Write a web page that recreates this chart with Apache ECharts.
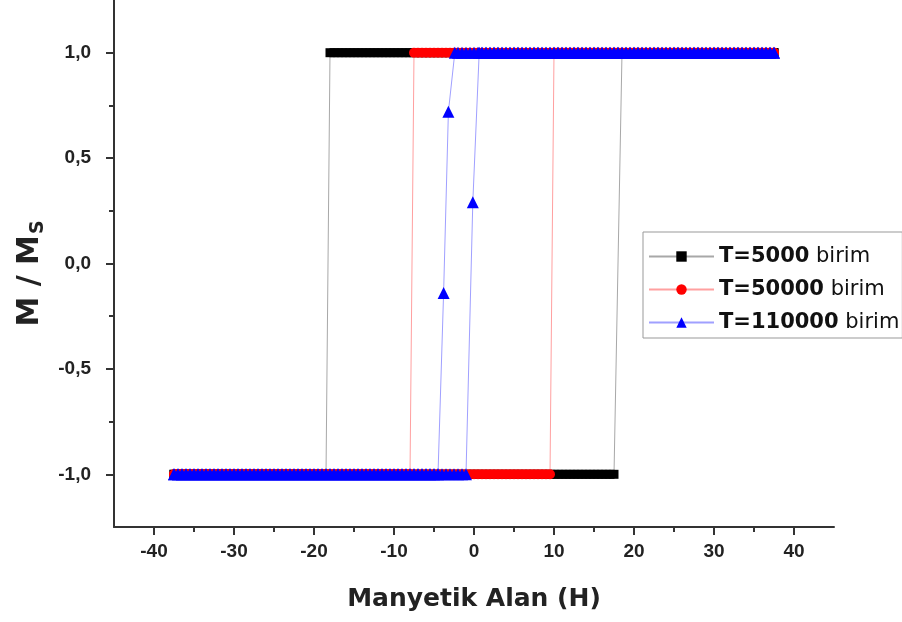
<!DOCTYPE html>
<html>
<head>
<meta charset="utf-8">
<script src="https://cdn.jsdelivr.net/npm/echarts@6/dist/echarts.min.js"></script>
<style>
  html, body { margin: 0; padding: 0; background: #fff; }
  #chart { width: 902px; height: 622px; }
</style>
</head>
<body>
<div id="chart"></div>
<script>
// Field sweep of the simulated hysteresis loops
const H_MAX = 37.5;
const H_STEP = 0.5;

// Series names
const seriesNames = ['T=5000 birim', 'T=50000 birim', 'T=110000 birim'];

// Switching points [H, M/Ms] on the decreasing-field branch, in sweep order
const desc5000 = [[-18.0, 1], [-18.5, -1]];
const desc50000 = [[-7.5, 1], [-8.0, -1]];
const desc110000 = [[-2.4, 1], [-3.2, 0.72], [-3.8, -0.14], [-4.5, -1]];

// Switching points [H, M/Ms] on the increasing-field branch, in sweep order
const asc5000 = [[17.5, -1], [18.5, 1]];
const asc50000 = [[9.5, -1], [10.0, 1]];
const asc110000 = [[-1.0, -1], [-0.15, 0.29], [0.65, 1]];

// Saturated magnetisation levels
const M_UP = 1;
const M_DOWN = -1;

// Axis ticks
const xTickValues = [-40, -30, -20, -10, 0, 10, 20, 30, 40];
const xMinorTicks = [-35, -25, -15, -5, 5, 15, 25, 35];
const yTickValues = [-1, -0.5, 0, 0.5, 1];
const yMinorTicks = [-0.75, -0.25, 0.25, 0.75];

// Field values of the sweep
const fieldSweep = [];
for (let h = -H_MAX; h <= H_MAX + 1e-9; h += H_STEP) fieldSweep.push(Math.round(h * 10) / 10);

// One full loop: field goes down from +H_MAX to -H_MAX, then back up
function buildLoop(desc, asc) {
  const pts = [];
  const down = fieldSweep.slice().reverse();
  down.filter(h => h > desc[0][0]).forEach(h => pts.push([h, M_UP]));
  desc.forEach(p => pts.push(p));
  down.filter(h => h < desc[desc.length - 1][0]).forEach(h => pts.push([h, M_DOWN]));
  fieldSweep.filter(h => h < asc[0][0]).forEach(h => pts.push([h, M_DOWN]));
  asc.forEach(p => pts.push(p));
  fieldSweep.filter(h => h > asc[asc.length - 1][0]).forEach(h => pts.push([h, M_UP]));
  return pts;
}

const loops = [
  buildLoop(desc5000, asc5000),
  buildLoop(desc50000, asc50000),
  buildLoop(desc110000, asc110000)
];

const FONT = 'DejaVu Sans';
const TICK_FONT = 'Liberation Sans';
const markerColors = ['#000000', '#ff0000', '#0000ff'];
const lineColors = ['#a8a8a8', '#ffa0a0', '#a0a0ff'];
const symbols = ['rect', 'circle', 'triangle'];
const symbolSizes = [9, 10, 12];

const axisColor = '#333';
const fmt = v => v.toFixed(1).replace('.', ',');

const chart = echarts.init(document.getElementById('chart'));
chart.setOption({
  animation: false,
  backgroundColor: '#fff',
  grid: { left: 114, right: 68, top: 0, bottom: 95, containLabel: false },
  legend: {
    orient: 'vertical',
    left: 643,
    top: 232,
    padding: [14, 3, 5, 5],
    itemGap: 12,
    itemWidth: 65,
    itemHeight: 13,
    borderColor: '#999',
    borderWidth: 1,
    data: seriesNames,
    formatter: name => {
      const i = name.indexOf(' ');
      return '{b|' + name.slice(0, i) + '}' + name.slice(i);
    },
    textStyle: {
      fontFamily: FONT, fontSize: 21, color: '#111',
      rich: { b: { fontFamily: FONT, fontSize: 21, fontWeight: 'bold', color: '#111' } }
    }
  },
  xAxis: [
    {
      type: 'value', min: -45, max: 45, position: 'bottom',
      name: 'Manyetik Alan (H)', nameLocation: 'middle', nameGap: 60,
      nameTextStyle: { fontFamily: FONT, fontSize: 25, fontWeight: 'bold', color: '#222' },
      axisLine: { show: true, onZero: false, lineStyle: { color: axisColor, width: 2 } },
      axisTick: { show: true, inside: false, length: 8, customValues: xTickValues, lineStyle: { color: axisColor, width: 2 } },
      axisLabel: { show: true, margin: 15, customValues: xTickValues, fontFamily: TICK_FONT, fontSize: 19, fontWeight: 'bold', color: '#222' },
      splitLine: { show: false }
    },
    {
      type: 'value', min: -45, max: 45, position: 'bottom',
      axisLine: { show: false, onZero: false },
      axisTick: { show: true, inside: false, length: 5, customValues: xMinorTicks, lineStyle: { color: axisColor, width: 2 } },
      axisLabel: { show: false },
      splitLine: { show: false }
    }
  ],
  yAxis: [
    {
      type: 'value', min: -1.25, max: 1.25, position: 'left',
      name: 'M / M{s|S}', nameLocation: 'middle', nameGap: 64, nameRotate: 90,
      nameTextStyle: {
        fontFamily: FONT, fontSize: 30, fontWeight: 'bold', color: '#222', lineHeight: 34,
        padding: [0, 20, 0, 0],
        rich: { s: { fontFamily: FONT, fontSize: 19, fontWeight: 'bold', color: '#222', lineHeight: 10, verticalAlign: 'bottom', padding: [0, 0, 0, 1] } }
      },
      axisLine: { show: true, onZero: false, lineStyle: { color: axisColor, width: 2 } },
      axisTick: { show: true, inside: false, length: 8, customValues: yTickValues, lineStyle: { color: axisColor, width: 2 } },
      axisLabel: { show: true, margin: 23, customValues: yTickValues, formatter: fmt, fontFamily: TICK_FONT, fontSize: 19, fontWeight: 'bold', color: '#222' },
      splitLine: { show: false }
    },
    {
      type: 'value', min: -1.25, max: 1.25, position: 'left',
      axisLine: { show: false, onZero: false },
      axisTick: { show: true, inside: false, length: 5, customValues: yMinorTicks, lineStyle: { color: axisColor, width: 2 } },
      axisLabel: { show: false },
      splitLine: { show: false }
    }
  ],
  series: loops.map((data, i) => ({
    name: seriesNames[i],
    type: 'line',
    xAxisIndex: 0,
    yAxisIndex: 0,
    data: data,
    showAllSymbol: true,
    symbol: symbols[i],
    symbolSize: symbolSizes[i],
    itemStyle: { color: markerColors[i], borderWidth: 0 },
    lineStyle: { color: lineColors[i], width: 1 },
    emphasis: { disabled: true },
    z: 2 + i
  }))
});
</script>
</body>
</html>
